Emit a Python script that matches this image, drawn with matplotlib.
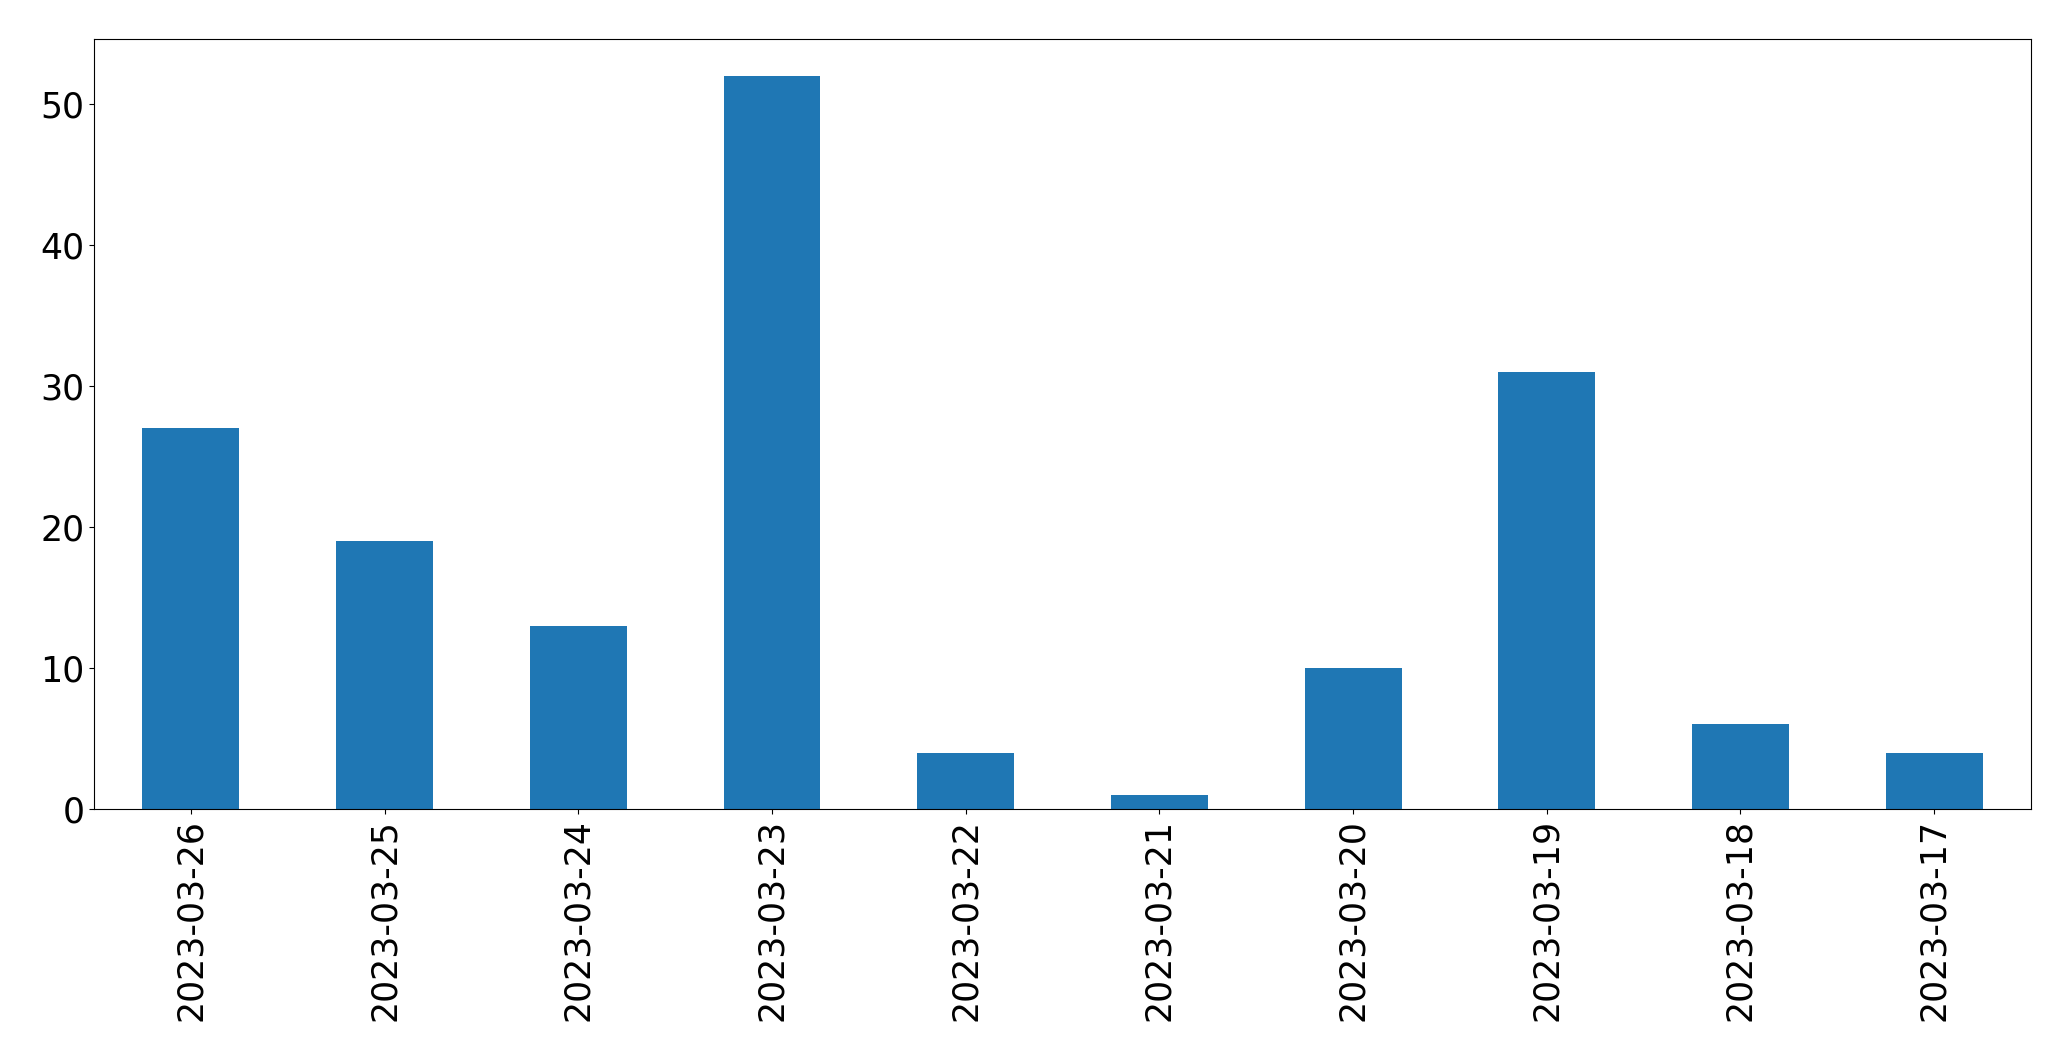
import numpy as np
import matplotlib
matplotlib.use('Agg')
import matplotlib.pyplot as plt

dates = ['2023-03-26', '2023-03-25', '2023-03-24', '2023-03-23', '2023-03-22',
         '2023-03-21', '2023-03-20', '2023-03-19', '2023-03-18', '2023-03-17']
counts = [27, 19, 13, 52, 4, 1, 10, 31, 6, 4]

plt.rcParams['font.size'] = 25

fig = plt.figure(figsize=(20.71, 10.61), dpi=100)
ax = fig.add_axes([0.0454, 0.2375, 0.9353, 0.7253])

x = np.arange(len(dates))
ax.bar(x, counts, width=0.5, color='#1f77b4')
ax.set_xlim(-0.5, len(dates) - 0.5)
ax.set_ylim(0, max(counts) * 1.05)
ax.set_xticks(x)
ax.set_xticklabels(dates, rotation=90)
ax.set_yticks([0, 10, 20, 30, 40, 50])

fig.savefig('out.png', dpi=100)
